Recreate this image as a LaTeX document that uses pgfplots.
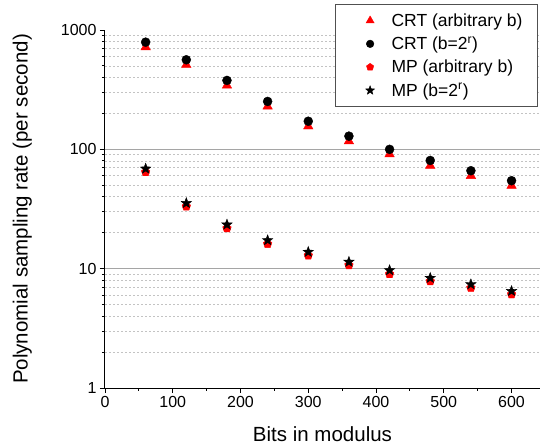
\documentclass[border=0pt]{standalone}
\usepackage{fontspec}
\setmainfont{Liberation Sans}
\usepackage{pgfplots}
\pgfplotsset{compat=1.18}
\definecolor{gridmaj}{RGB}{165,165,165}
\definecolor{gridmin}{RGB}{195,195,195}
\definecolor{legframe}{RGB}{80,80,80}

% filled five-pointed star
\pgfdeclareplotmark{fstar}{%
  \pgfpathmoveto{\pgfpointpolar{90}{\pgfplotmarksize}}%
  \pgfpathlineto{\pgfpointpolar{126}{0.42\pgfplotmarksize}}%
  \pgfpathlineto{\pgfpointpolar{162}{\pgfplotmarksize}}%
  \pgfpathlineto{\pgfpointpolar{198}{0.42\pgfplotmarksize}}%
  \pgfpathlineto{\pgfpointpolar{234}{\pgfplotmarksize}}%
  \pgfpathlineto{\pgfpointpolar{270}{0.42\pgfplotmarksize}}%
  \pgfpathlineto{\pgfpointpolar{306}{\pgfplotmarksize}}%
  \pgfpathlineto{\pgfpointpolar{342}{0.42\pgfplotmarksize}}%
  \pgfpathlineto{\pgfpointpolar{18}{\pgfplotmarksize}}%
  \pgfpathlineto{\pgfpointpolar{54}{0.42\pgfplotmarksize}}%
  \pgfpathclose
  \pgfusepathqfillstroke}

\begin{document}
\begin{tikzpicture}
\begin{axis}[
  name=ax, scale only axis, width=435pt, height=358pt,
  xmin=0, xmax=642, ymode=log, ymin=1, ymax=1000,
  axis x line*=bottom, axis y line*=left,
  axis line style={line width=1pt, -},
  xtick={0,100,200,300,400,500,600}, minor x tick num=1,
  ytick={1,10,100,1000}, yticklabels={1,10,100,1000},
  minor ytick={2,3,4,5,6,7,8,9,20,30,40,50,60,70,80,90,200,300,400,500,600,700,800,900},
  extra y ticks={10,100}, extra y tick labels={},
  extra y tick style={ymajorgrids=true},
  tick align=outside, major tick length=5pt, minor tick length=3pt,
  tick style={black, line width=0.9pt},
  yminorgrids,
  major grid style={gridmaj, line width=0.9pt},
  minor grid style={gridmin, line width=0.7pt, dash pattern=on 2pt off 2pt},
  /pgf/number format/assume math mode=true,
  ticklabel style={font=\fontsize{16}{19}\selectfont},
  xlabel={Bits in modulus},
  ylabel={Polynomial sampling rate (per second)},
  label style={font=\fontsize{20.5}{24}\selectfont},
  xlabel style={at={(axis description cs:0.5,0)}, anchor=center, yshift=-46pt},
  ylabel style={at={(axis description cs:-0.19,0.5)}, anchor=center},
  legend style={at={(rel axis cs:1,1)}, anchor=north east, xshift=-2pt, yshift=26pt,
    draw=legframe, line width=1pt, fill=white,
    font=\fontsize{17.5}{20}\selectfont, row sep=5pt, column sep=15pt,
    inner xsep=13pt, inner ysep=7pt},
  legend cell align=left,
  legend image code/.code={%
    \path[draw=none, fill=none] (-22pt,0pt) -- (3pt,0pt);
    \draw[#1, line width=0.4pt, every mark/.append style={scale=0.85}]
      plot coordinates {(0pt,0pt)};},
]
\addplot[only marks, mark=triangle*, mark size=5.5pt, red] coordinates {
  (60,718) (120,511) (180,343) (240,229) (300,156)
  (360,117) (420,91) (480,73) (540,60) (600,49.6)};
\addlegendentry{CRT (arbitrary b)}
\addplot[only marks, mark=*, mark size=4.5pt, black] coordinates {
  (60,791) (120,563) (180,378) (240,252) (300,172)
  (360,129) (420,100) (480,80.7) (540,66.2) (600,54.6)};
\addlegendentry{CRT (b=2\textsuperscript{r})}
\addplot[only marks, mark=pentagon*, mark size=4.5pt, red] coordinates {
  (60,64.4) (120,33.2) (180,21.8) (240,16.1) (300,12.9)
  (360,10.7) (420,9.0) (480,7.83) (540,6.9) (600,6.09)};
\addlegendentry{MP (arbitrary b)}
\addplot[only marks, mark=fstar, mark size=5.5pt, black] coordinates {
  (60,68.8) (120,35.4) (180,23.4) (240,17.3) (300,13.8)
  (360,11.4) (420,9.7) (480,8.35) (540,7.39) (600,6.49)};
\addlegendentry{MP (b=2\textsuperscript{r})}
\end{axis}
\pgfresetboundingbox
\path (ax.south west) ++(-105pt,-59pt) coordinate (bl);
\path (ax.north east) ++(0pt,30pt) coordinate (tr);
\path (bl) rectangle (tr);
\end{tikzpicture}
\end{document}
